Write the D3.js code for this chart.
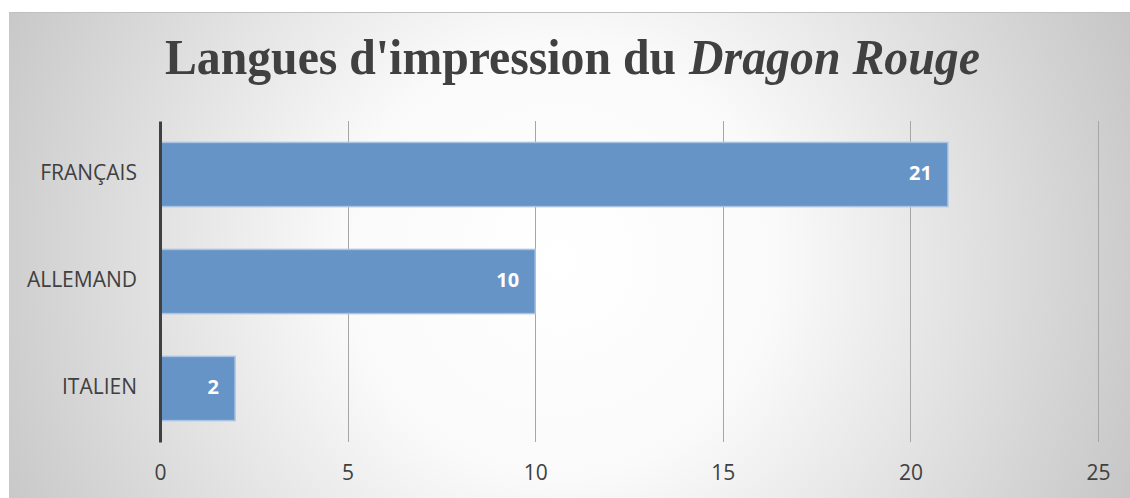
<!DOCTYPE html>
<html>
<head>
<meta charset="utf-8">
<script src="https://cdn.jsdelivr.net/npm/d3@7"></script>
<style>
  body { margin: 0; background: #fff; }
  svg { display: block; }
</style>
</head>
<body>
<div id="chart"></div>
<script>
const categories = ['FRANÇAIS', 'ALLEMAND', 'ITALIEN'];
const values = [21, 10, 2];
const xTicks = [0, 5, 10, 15, 20, 25];
const titleParts = ["Langues d'impression du", 'Dragon Rouge'];

const w = 1130, h = 498;
const margin = {top: 121, left: 160, right: 32, bottom: 56};

let svg = d3.select('#chart').append('svg')
    .attr('width', w).attr('height', h);

// background gradient
let defs = svg.append('defs');
let grad = defs.append('radialGradient').attr('id', 'bg')
    .attr('gradientUnits', 'userSpaceOnUse')
    .attr('cx', 560).attr('cy', 260).attr('r', 620);
grad.append('stop').attr('offset', '0%').attr('stop-color', '#ffffff');
grad.append('stop').attr('offset', '35%').attr('stop-color', '#fafafa');
grad.append('stop').attr('offset', '100%').attr('stop-color', '#c6c6c6');

svg.append('rect').attr('x', 9).attr('y', 12).attr('width', w - 9).attr('height', h - 12)
    .attr('fill', 'url(#bg)');
svg.append('line').attr('x1', 9).attr('x2', w).attr('y1', 12.5).attr('y2', 12.5)
    .attr('stroke', '#c0c0c0').attr('stroke-width', 1);

let x = d3.scaleLinear().domain([0, 25]).range([margin.left, w - margin.right]);
let y = d3.scaleBand().domain(categories).range([margin.top, h - margin.bottom])
    .paddingInner(0.4).paddingOuter(0.2);

// title, roman part then italic part
let titleFont = '"Liberation Serif", "Times New Roman", serif';
svg.append('text')
    .attr('x', 165).attr('y', 74)
    .attr('font-family', titleFont)
    .attr('font-weight', 'bold').attr('font-size', 51)
    .attr('fill', '#404040')
    .attr('textLength', 511).attr('lengthAdjust', 'spacingAndGlyphs')
    .text(titleParts[0]);
svg.append('text')
    .attr('x', 689).attr('y', 74)
    .attr('font-family', titleFont)
    .attr('font-weight', 'bold').attr('font-style', 'italic').attr('font-size', 51)
    .attr('fill', '#404040')
    .attr('textLength', 291).attr('lengthAdjust', 'spacingAndGlyphs')
    .text(titleParts[1]);

// gridlines
svg.append('g').selectAll('line').data(xTicks.slice(1)).join('line')
    .attr('x1', d => Math.round(x(d)) + 0.5).attr('x2', d => Math.round(x(d)) + 0.5)
    .attr('y1', margin.top).attr('y2', h - margin.bottom)
    .attr('stroke', '#a6a6a6').attr('stroke-width', 1);

// x tick labels
let xAxis = d3.axisBottom(x).tickValues(xTicks).tickSize(0).tickPadding(0);
let gx = svg.append('g').attr('transform', `translate(0,${h - margin.bottom})`).call(xAxis);
gx.select('.domain').remove();
gx.selectAll('text')
    .attr('dy', null).attr('y', 32)
    .attr('dominant-baseline', 'middle')
    .attr('font-family', '"Open Sans", "Liberation Sans", sans-serif')
    .attr('font-size', 21).attr('fill', '#404040');

// bars
svg.append('g').selectAll('rect').data(values).join('rect')
    .attr('x', x(0)).attr('y', (d, i) => y(categories[i]))
    .attr('width', d => x(d) - x(0)).attr('height', y.bandwidth())
    .attr('fill', '#6794c7').attr('stroke', '#a9c3e3').attr('stroke-width', 1.5);

// data labels
svg.append('g').selectAll('text').data(values).join('text')
    .attr('x', d => x(d) - 16).attr('y', (d, i) => y(categories[i]) + y.bandwidth() / 2)
    .attr('text-anchor', 'end').attr('dominant-baseline', 'middle')
    .attr('font-family', '"Open Sans", "Liberation Sans", sans-serif')
    .attr('font-weight', 'bold').attr('font-size', 20).attr('fill', '#ffffff')
    .text(d => d);

// category axis
let yAxis = d3.axisLeft(y).tickSize(0).tickPadding(23);
let gy = svg.append('g').attr('transform', `translate(${x(0)},0)`).call(yAxis);
gy.select('.domain').attr('stroke', '#404040').attr('stroke-width', 3);
gy.selectAll('text')
    .attr('dy', null).attr('dominant-baseline', 'middle')
    .attr('font-family', '"Open Sans", "Liberation Sans", sans-serif')
    .attr('font-size', 21).attr('fill', '#404040');
</script>
</body>
</html>
